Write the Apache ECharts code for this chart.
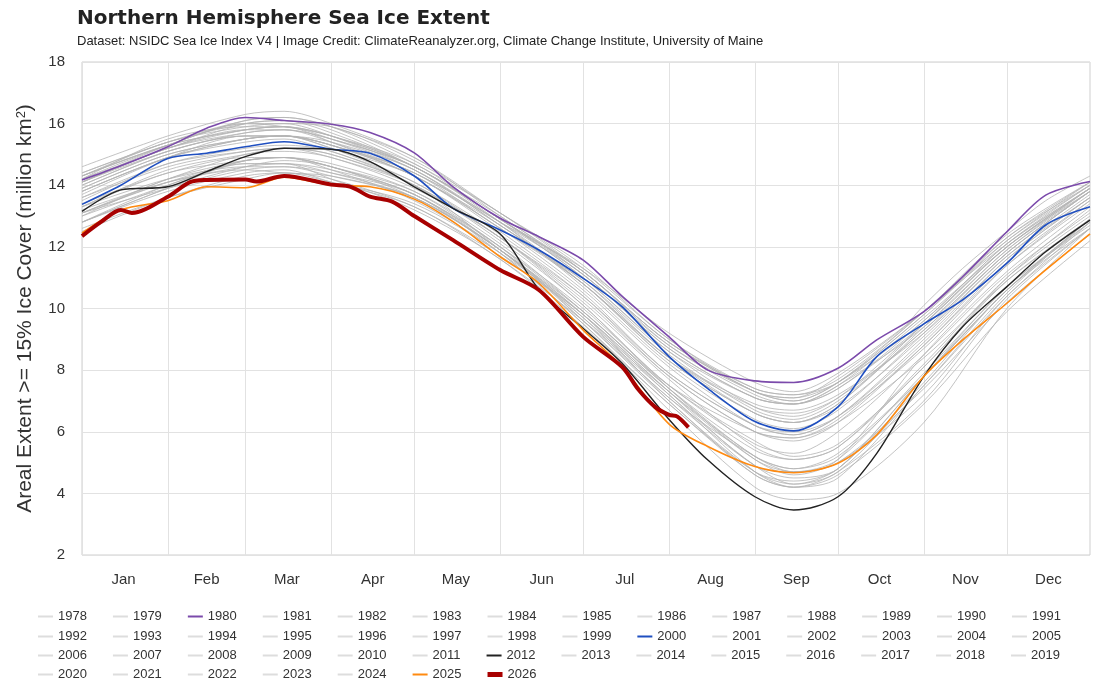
<!DOCTYPE html>
<html>
<head>
<meta charset="utf-8">
<title>Northern Hemisphere Sea Ice Extent</title>
<script src="https://cdn.jsdelivr.net/npm/echarts@6/dist/echarts.min.js"></script>
<style>
    html, body { margin: 0; padding: 0; background: #fff; }
    #main { width: 1100px; height: 700px; }
</style>
</head>
<body>
<div id="main"></div>
<script type="text/javascript">
    // 月份标签 / 网格线位置 (day index, 0 = Jan 1)
    var monthNames = ['Jan', 'Feb', 'Mar', 'Apr', 'May', 'Jun', 'Jul', 'Aug', 'Sep', 'Oct', 'Nov', 'Dec'];
    var monthStarts = [0, 31, 59, 90, 120, 151, 181, 212, 243, 273, 304, 334];
    var monthMids = [15, 45, 74, 105, 135, 166, 196, 227, 258, 288, 319, 349];

    // sample days (day of year) for the values below
    var greyDays = [1, 32, 60, 74, 91, 121, 152, 182, 213, 244, 258, 274, 305, 335, 365];
    var hiDays = [1, 15, 32, 46, 60, 74, 91, 105, 121, 135, 152, 166, 182, 196, 213, 227, 244, 258, 274, 288, 305, 319, 335, 349, 365];
    var days1978 = [299, 305, 319, 335, 349, 365];
    var days2026 = [1, 8, 15, 19, 32, 40, 46, 60, 64, 74, 91, 98, 105, 113, 121, 135, 152, 166, 182, 196, 202, 208, 213, 216, 220];

    // extent, million km2
    var y1978 = [9.5, 10.1, 11.3, 12.5, 13.5, 14.3];
    var y1979 = [14.6, 15.6, 16.3, 16.4, 16.0, 14.9, 13.0, 11.2, 8.9, 7.3, 7.0, 7.6, 9.9, 12.3, 14.0];
    var y1981 = [14.3, 15.3, 15.8, 15.9, 15.6, 14.6, 12.9, 11.0, 8.6, 7.1, 6.9, 7.5, 9.7, 12.0, 13.9];
    var y1982 = [14.1, 15.3, 16.1, 16.2, 15.9, 14.9, 13.1, 11.4, 9.0, 7.4, 7.2, 7.7, 9.9, 12.4, 14.1];
    var y1983 = [14.4, 15.4, 16.0, 16.1, 15.8, 14.6, 13.0, 11.1, 8.8, 7.3, 7.1, 7.6, 9.6, 12.1, 13.9];
    var y1984 = [14.1, 15.1, 15.6, 15.6, 15.3, 14.4, 12.6, 10.9, 8.5, 6.7, 6.4, 7.0, 9.3, 11.8, 13.8];
    var y1985 = [14.2, 15.2, 16.0, 16.1, 15.7, 14.6, 12.9, 11.0, 8.6, 6.8, 6.5, 7.1, 9.5, 12.0, 13.9];
    var y1986 = [14.3, 15.4, 15.9, 16.0, 15.9, 14.8, 13.1, 11.3, 9.0, 7.3, 7.1, 7.8, 9.9, 12.2, 14.0];
    var y1987 = [14.3, 15.3, 15.8, 15.9, 15.6, 14.7, 12.9, 11.2, 8.8, 7.2, 6.9, 7.4, 9.6, 12.1, 14.0];
    var y1988 = [14.4, 15.4, 16.1, 16.2, 15.9, 14.7, 13.1, 11.2, 8.9, 7.3, 7.0, 7.6, 9.8, 12.3, 14.1];
    var y1989 = [14.2, 15.5, 15.9, 15.9, 15.5, 14.5, 12.8, 11.1, 8.7, 7.1, 6.9, 7.5, 9.4, 11.9, 13.8];
    var y1990 = [14.3, 15.3, 16.0, 15.9, 15.6, 14.6, 12.8, 10.7, 8.2, 6.4, 6.1, 6.7, 9.2, 11.8, 13.8];
    var y1991 = [14.1, 15.2, 15.8, 15.9, 15.4, 14.3, 12.7, 10.8, 8.4, 6.6, 6.3, 6.9, 9.5, 12.0, 13.8];
    var y1992 = [14.0, 15.1, 15.7, 15.8, 15.5, 14.6, 12.9, 11.2, 8.9, 7.4, 7.2, 7.6, 9.8, 12.2, 14.1];
    var y1993 = [14.2, 15.3, 16.0, 16.0, 15.6, 14.5, 12.7, 10.8, 8.3, 6.6, 6.3, 6.9, 9.4, 11.9, 13.9];
    var y1994 = [14.1, 15.2, 15.7, 15.8, 15.5, 14.6, 12.9, 11.1, 8.7, 7.1, 6.9, 7.4, 9.5, 12.0, 13.9];
    var y1995 = [13.9, 15.0, 15.5, 15.6, 15.2, 14.3, 12.5, 10.5, 7.9, 6.2, 5.9, 6.5, 9.0, 11.6, 13.6];
    var y1996 = [13.8, 14.9, 15.5, 15.6, 15.3, 14.4, 12.8, 11.3, 9.2, 7.6, 7.3, 7.9, 9.9, 12.1, 13.9];
    var y1997 = [14.0, 15.1, 15.6, 15.6, 15.4, 14.5, 12.7, 10.9, 8.4, 6.8, 6.6, 7.1, 9.3, 11.8, 13.8];
    var y1998 = [14.1, 15.2, 15.8, 15.8, 15.4, 14.4, 12.8, 10.8, 8.3, 6.6, 6.3, 6.8, 9.1, 11.7, 13.7];
    var y1999 = [13.9, 15.0, 15.5, 15.6, 15.3, 14.3, 12.6, 10.6, 8.1, 6.2, 5.9, 6.5, 8.9, 11.6, 13.6];
    var y2001 = [13.7, 14.9, 15.6, 15.6, 15.3, 14.3, 12.6, 10.8, 8.4, 6.9, 6.7, 7.2, 9.2, 11.7, 13.6];
    var y2002 = [13.8, 14.9, 15.5, 15.6, 15.2, 14.1, 12.4, 10.4, 7.8, 6.0, 5.7, 6.3, 8.8, 11.5, 13.5];
    var y2003 = [13.8, 14.9, 15.4, 15.5, 15.1, 14.1, 12.3, 10.4, 7.9, 6.2, 6.0, 6.5, 8.7, 11.4, 13.5];
    var y2004 = [13.6, 14.7, 15.1, 15.2, 14.9, 14.0, 12.3, 10.3, 7.8, 6.0, 5.8, 6.4, 8.8, 11.4, 13.4];
    var y2005 = [13.4, 14.4, 14.9, 14.9, 14.6, 13.7, 12.0, 10.0, 7.5, 5.6, 5.3, 6.0, 8.5, 11.1, 13.1];
    var y2006 = [13.3, 14.2, 14.6, 14.6, 14.3, 13.6, 11.9, 9.9, 7.5, 6.0, 5.8, 6.3, 8.4, 10.9, 12.9];
    var y2007 = [13.3, 14.4, 14.8, 14.9, 14.6, 13.7, 12.0, 9.6, 7.0, 4.6, 4.2, 4.5, 7.5, 10.5, 12.9];
    var y2008 = [13.5, 14.7, 15.2, 15.3, 15.1, 14.0, 12.2, 10.1, 7.4, 5.1, 4.6, 5.1, 8.5, 11.2, 13.3];
    var y2009 = [13.6, 14.6, 15.1, 15.2, 15.0, 14.0, 12.3, 10.1, 7.5, 5.7, 5.2, 5.6, 8.1, 11.0, 13.2];
    var y2010 = [13.3, 14.5, 15.0, 15.2, 15.0, 14.0, 11.9, 9.7, 7.3, 5.2, 4.7, 5.1, 7.9, 10.7, 12.8];
    var y2011 = [13.1, 14.1, 14.6, 14.7, 14.5, 13.7, 11.8, 9.5, 6.9, 4.7, 4.4, 4.8, 7.8, 10.6, 12.9];
    var y2013 = [13.1, 14.2, 15.0, 15.1, 14.9, 13.9, 12.3, 10.2, 7.7, 5.5, 5.1, 5.5, 8.2, 11.0, 13.0];
    var y2014 = [13.0, 14.2, 14.8, 14.9, 14.7, 13.8, 12.0, 9.9, 7.4, 5.4, 5.1, 5.5, 8.1, 10.9, 12.9];
    var y2015 = [13.2, 14.1, 14.5, 14.4, 14.3, 13.6, 11.9, 9.6, 7.1, 4.9, 4.5, 4.8, 7.8, 10.7, 12.7];
    var y2016 = [12.8, 13.8, 14.4, 14.5, 14.1, 13.3, 11.6, 9.6, 7.2, 4.7, 4.2, 4.6, 6.9, 9.9, 12.2];
    var y2017 = [12.5, 13.6, 14.3, 14.4, 14.1, 13.4, 11.8, 9.8, 7.3, 4.9, 4.7, 5.0, 7.4, 10.2, 12.4];
    var y2018 = [12.6, 13.6, 14.2, 14.4, 14.2, 13.3, 11.7, 9.8, 7.3, 5.1, 4.7, 5.0, 7.2, 10.4, 12.6];
    var y2019 = [12.8, 13.9, 14.7, 14.7, 14.2, 13.2, 11.6, 9.4, 6.9, 4.6, 4.2, 4.7, 7.0, 10.3, 12.6];
    var y2020 = [13.0, 14.0, 14.8, 14.9, 14.5, 13.5, 11.8, 9.5, 6.7, 4.2, 3.8, 4.0, 6.3, 10.0, 12.6];
    var y2021 = [12.8, 14.0, 14.7, 14.7, 14.4, 13.6, 11.9, 9.7, 7.1, 5.2, 4.8, 5.3, 7.8, 10.6, 12.8];
    var y2022 = [13.1, 14.1, 14.8, 14.9, 14.6, 13.8, 12.1, 9.9, 7.4, 5.2, 4.8, 5.2, 7.8, 10.6, 12.9];
    var y2023 = [13.1, 13.9, 14.5, 14.6, 14.4, 13.7, 11.9, 9.8, 7.2, 4.9, 4.3, 4.7, 7.5, 10.4, 12.8];
    var y2024 = [12.8, 13.9, 14.6, 14.8, 14.6, 13.6, 11.9, 9.8, 7.0, 4.7, 4.3, 4.8, 7.6, 10.6, 12.6];

    // highlighted years
    var y1980 = [14.17, 14.63, 15.25, 15.85, 16.2, 16.1, 15.98, 15.71, 15.05, 13.95, 12.93, 12.33, 11.57, 10.4, 9.08, 8.0, 7.65, 7.6, 8.06, 8.98, 9.9, 11.03, 12.49, 13.68, 14.12];
    var y2000 = [13.38, 14.0, 14.87, 15.04, 15.25, 15.41, 15.17, 15.04, 14.3, 13.25, 12.55, 11.9, 10.98, 10.06, 8.44, 7.4, 6.33, 6.03, 6.81, 8.44, 9.5, 10.28, 11.47, 12.71, 13.3];
    var y2012 = [13.15, 13.85, 13.95, 14.44, 14.93, 15.2, 15.17, 14.77, 13.95, 13.25, 12.42, 10.62, 9.35, 8.22, 6.4, 5.08, 3.89, 3.46, 3.89, 5.3, 7.8, 9.41, 10.71, 11.84, 12.87];
    var y2025 = [12.45, 13.2, 13.5, 13.95, 13.92, 14.26, 14.0, 13.95, 13.55, 12.82, 11.68, 10.82, 9.3, 8.11, 6.25, 5.52, 4.87, 4.67, 4.98, 5.9, 7.8, 8.98, 10.17, 11.25, 12.42];
    var y2026 = [12.35, 12.82, 13.2, 13.1, 13.63, 14.1, 14.17, 14.19, 14.12, 14.3, 14.02, 13.95, 13.63, 13.47, 13.0, 12.22, 11.25, 10.6, 9.08, 8.11, 7.36, 6.8, 6.55, 6.49, 6.14];

    var years = [];
    for (var yr = 1978; yr <= 2026; yr++) years.push(String(yr));

    var extent = {
        '1978': y1978, '1979': y1979, '1980': y1980, '1981': y1981, '1982': y1982, '1983': y1983,
        '1984': y1984, '1985': y1985, '1986': y1986, '1987': y1987, '1988': y1988, '1989': y1989,
        '1990': y1990, '1991': y1991, '1992': y1992, '1993': y1993, '1994': y1994, '1995': y1995,
        '1996': y1996, '1997': y1997, '1998': y1998, '1999': y1999, '2000': y2000, '2001': y2001,
        '2002': y2002, '2003': y2003, '2004': y2004, '2005': y2005, '2006': y2006, '2007': y2007,
        '2008': y2008, '2009': y2009, '2010': y2010, '2011': y2011, '2012': y2012, '2013': y2013,
        '2014': y2014, '2015': y2015, '2016': y2016, '2017': y2017, '2018': y2018, '2019': y2019,
        '2020': y2020, '2021': y2021, '2022': y2022, '2023': y2023, '2024': y2024, '2025': y2025,
        '2026': y2026
    };

    var highlight = {
        '1980': { color: '#7b4aab', width: 1.6, z: 5 },
        '2000': { color: '#1f4fc0', width: 1.6, z: 6 },
        '2012': { color: '#222222', width: 1.4, z: 7 },
        '2025': { color: '#ff8a10', width: 1.6, z: 8 },
        '2026': { color: '#a80000', width: 4, z: 10 }
    };

    function daysFor(name) {
        if (name === '1978') return days1978;
        if (name === '2026') return days2026;
        if (highlight[name]) return hiDays;
        return greyDays;
    }

    var categories = [];
    for (var d = 1; d <= 365; d++) categories.push(String(d));

    var thinIcon = 'path://M0,0 L15,0 L15,2 L0,2 Z';
    var thickIcon = 'path://M0,0 L15,0 L15,5 L0,5 Z';

    var series = [];
    var legendData = [];
    years.forEach(function (name) {
        var vals = extent[name];
        var dd = daysFor(name);
        var pts = vals.map(function (v, i) { return [dd[i] - 1, v]; });
        var h = highlight[name];
        series.push({
            name: name,
            type: 'line',
            data: pts,
            smooth: 0.3,
            symbol: 'none',
            silent: true,
            z: h ? h.z : 2,
            lineStyle: h ? { color: h.color, width: h.width } : { color: '#b4b4b4', width: 1, opacity: 0.8 },
            itemStyle: { color: h ? h.color : '#dddddd' }
        });
        legendData.push({
            name: name,
            icon: (h && h.width > 2) ? thickIcon : thinIcon,
            itemStyle: { color: h ? h.color : '#dddddd', borderWidth: 0 }
        });
    });

    // legend: one component per row, 14 years each
    var rowTops = [605, 625, 644, 663];
    var legends = rowTops.map(function (top, r) {
        return {
            data: legendData.slice(r * 14, r * 14 + 14),
            left: 33,
            top: top,
            itemWidth: 15,
            itemHeight: 14,
            itemGap: 26,
            symbolKeepAspect: true,
            selectedMode: false,
            textStyle: { fontSize: 13, color: '#333' }
        };
    });

    var myChart = echarts.init(document.getElementById('main'), null, { renderer: 'canvas' });

    var option = {
        animation: false,
        backgroundColor: '#ffffff',
        textStyle: { fontFamily: 'Liberation Sans, Arial, sans-serif' },
        title: {
            text: 'Northern Hemisphere Sea Ice Extent',
            subtext: 'Dataset: NSIDC Sea Ice Index V4 | Image Credit: ClimateReanalyzer.org, Climate Change Institute, University of Maine',
            left: 72,
            top: 4,
            itemGap: 6,
            textStyle: { fontSize: 20, fontWeight: 'bold', color: '#222', fontFamily: 'DejaVu Sans, Liberation Sans, sans-serif' },
            subtextStyle: { fontSize: 13, color: '#222', fontFamily: 'Liberation Sans, Arial, sans-serif' }
        },
        legend: legends,
        grid: {
            left: 82,
            right: 10,
            top: 62,
            bottom: 145,
            show: true,
            borderColor: '#cfcfcf',
            borderWidth: 1
        },
        xAxis: {
            type: 'category',
            data: categories,
            boundaryGap: false,
            axisLine: { show: false },
            axisTick: { show: false },
            axisLabel: {
                interval: function (index) { return monthMids.indexOf(index) >= 0; },
                formatter: function (value, index) { return monthNames[monthMids.indexOf(index)] || ''; },
                fontSize: 15,
                color: '#333',
                margin: 17
            },
            splitLine: {
                show: true,
                interval: function (index) { return monthStarts.indexOf(index) >= 0; },
                lineStyle: { color: '#e2e2e2', width: 1 }
            }
        },
        yAxis: {
            type: 'value',
            min: 2,
            max: 18,
            interval: 2,
            name: 'Areal Extent >= 15% Ice Cover (million km{sup|2})',
            nameLocation: 'middle',
            nameRotate: 90,
            nameGap: 46,
            nameTextStyle: {
                fontSize: 21,
                color: '#333',
                rich: { sup: { fontSize: 13, color: '#333', verticalAlign: 'top', lineHeight: 14 } }
            },
            axisLine: { show: false },
            axisTick: { show: false },
            axisLabel: { fontSize: 15, color: '#333', margin: 17 },
            splitLine: { lineStyle: { color: '#e2e2e2', width: 1 } }
        },
        series: series
    };

    myChart.setOption(option);
</script>
</body>
</html>
